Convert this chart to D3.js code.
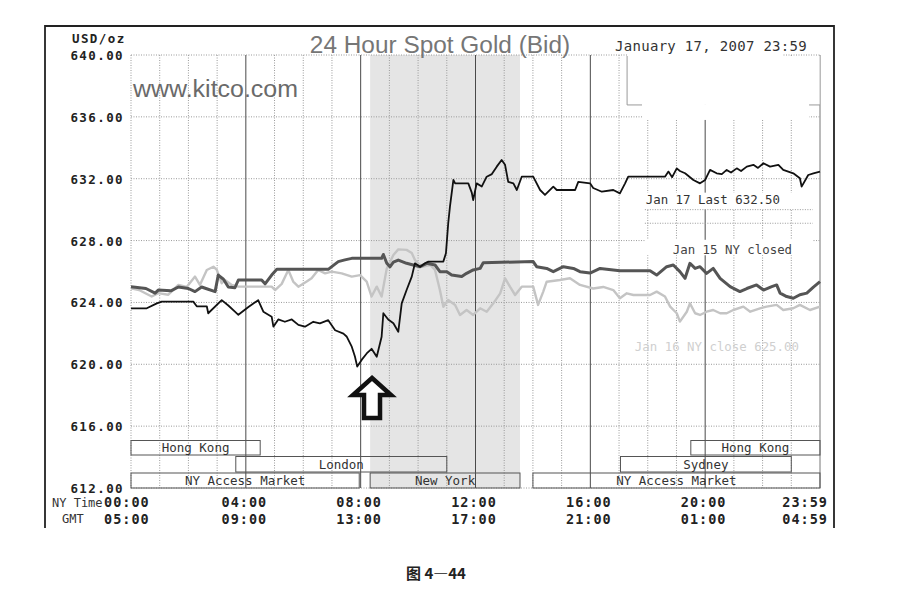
<!DOCTYPE html>
<html lang="zh">
<head>
<meta charset="utf-8">
<script src="https://d3js.org/d3.v7.min.js"></script>
<style>
  body { margin: 0; background: #fff; }
  svg { display: block; }
</style>
</head>
<body>
<div id="chart"></div>
<script>
// ---- data ----
var priceTicks = [640, 636, 632, 628, 624, 620, 616, 612];
var tickHours = [0, 4, 8, 12, 16, 20, 24];
var nyTimeLabels = ["00:00", "04:00", "08:00", "12:00", "16:00", "20:00", "23:59"];
var gmtLabels = ["05:00", "09:00", "13:00", "17:00", "21:00", "01:00", "04:59"];

// [hour NY time, USD/oz]
var jan17 = [
  [0, 623.62], [0.55, 623.62], [0.9, 623.94], [1.07, 624.05], [2.17, 624.05], [2.29, 623.75],
  [2.64, 623.75], [2.69, 623.3], [3.16, 624.15], [3.39, 623.8], [3.62, 623.4], [3.74, 623.2],
  [4.09, 623.7], [4.43, 624.15], [4.61, 623.4], [4.9, 623.08], [4.96, 622.43], [5.13, 622.9],
  [5.36, 622.75], [5.6, 622.9], [5.83, 622.55], [6.06, 622.43], [6.35, 622.75], [6.58, 622.65],
  [6.87, 622.85], [7.11, 622.2], [7.4, 621.98], [7.51, 621.8], [7.69, 621.14], [7.8, 620.5],
  [7.88, 619.85], [8.04, 620.3], [8.21, 620.7], [8.38, 621.0], [8.56, 620.49], [8.73, 621.78],
  [8.79, 623.3], [8.96, 622.9], [9.14, 622.65], [9.31, 622.1], [9.43, 623.94], [9.6, 624.8],
  [9.78, 625.67], [9.89, 626.53], [10.07, 626.3], [10.24, 626.53], [10.36, 626.64], [10.88, 626.64],
  [10.97, 627.18], [11.05, 629.12], [11.11, 630.2], [11.23, 631.92], [11.29, 631.7], [11.75, 631.7],
  [11.87, 631.1], [11.92, 630.62], [12.04, 631.7], [12.22, 631.5], [12.39, 632.13], [12.57, 632.3],
  [12.74, 632.78], [12.91, 633.21], [13.03, 632.9], [13.14, 631.8], [13.32, 631.7], [13.44, 631.27],
  [13.61, 632.13], [14.01, 632.13], [14.25, 631.27], [14.42, 630.95], [14.71, 631.49], [14.83, 631.27],
  [15.47, 631.27], [15.58, 631.8], [15.99, 631.7], [16.1, 631.4], [16.4, 631.16], [16.8, 631.27],
  [17.03, 631.05], [17.21, 631.7], [17.32, 632.13], [18.6, 632.13], [18.72, 632.46], [18.85, 632.1],
  [19.01, 632.67], [19.12, 632.5], [19.3, 632.35], [19.59, 631.92], [19.82, 631.7], [20.0, 631.92],
  [20.17, 632.57], [20.4, 632.35], [20.58, 632.3], [20.75, 632.57], [20.9, 632.4], [21.1, 632.67],
  [21.25, 632.5], [21.45, 632.78], [21.68, 632.9], [21.84, 632.7], [22.03, 633.0], [22.26, 632.78],
  [22.55, 632.9], [22.72, 632.57], [23.07, 632.35], [23.3, 632.03], [23.36, 631.49], [23.59, 632.24],
  [23.77, 632.35], [24, 632.46]
];

var jan15 = [
  [0, 625.02], [0.52, 624.9], [0.84, 624.6], [0.95, 624.8], [1.39, 624.75], [1.65, 625.0],
  [2.0, 624.9], [2.23, 624.7], [2.46, 625.0], [2.61, 624.9], [2.93, 624.7], [3.04, 625.77],
  [3.22, 625.5], [3.39, 625.0], [3.62, 624.95], [3.74, 625.45], [4.55, 625.45], [4.67, 625.2],
  [4.9, 625.77], [5.08, 626.14], [6.87, 626.14], [7.05, 626.4], [7.22, 626.64], [7.45, 626.75],
  [7.69, 626.85], [8.73, 626.85], [8.79, 627.1], [8.91, 626.53], [9.02, 626.3], [9.14, 626.6],
  [9.31, 626.74], [9.6, 626.53], [9.83, 626.42], [10.07, 626.31], [10.3, 626.53], [10.59, 626.42],
  [10.76, 625.99], [11.0, 625.99], [11.17, 625.77], [11.52, 625.67], [11.69, 625.88], [11.92, 626.1],
  [12.16, 626.2], [12.27, 626.57], [14.01, 626.64], [14.13, 626.31], [14.48, 626.2], [14.71, 625.99],
  [15.06, 626.31], [15.41, 626.2], [15.64, 625.99], [15.99, 625.9], [16.34, 626.2], [16.8, 626.1],
  [17.03, 626.05], [18.08, 626.05], [18.31, 625.77], [18.66, 626.31], [18.89, 626.42], [19.12, 625.99],
  [19.3, 625.56], [19.47, 626.53], [19.65, 626.2], [19.82, 626.31], [20.05, 625.88], [20.28, 626.2],
  [20.52, 625.56], [20.87, 625.02], [21.21, 624.7], [21.45, 624.9], [21.79, 625.13], [22.03, 624.8],
  [22.32, 625.02], [22.49, 625.13], [22.61, 624.6], [22.84, 624.38], [23.07, 624.27], [23.3, 624.5],
  [23.54, 624.6], [23.77, 624.99], [24, 625.34]
];

var jan16 = [
  [0, 624.91], [0.28, 624.8], [0.72, 624.38], [0.95, 624.6], [1.3, 624.5], [1.65, 625.13],
  [1.94, 625.0], [2.23, 625.67], [2.4, 625.13], [2.64, 626.1], [2.87, 626.31], [2.99, 626.1],
  [3.16, 625.24], [3.27, 625.45], [3.51, 625.13], [3.74, 625.02], [4.9, 625.02], [5.02, 624.8],
  [5.25, 625.2], [5.48, 626.1], [5.65, 625.35], [5.83, 625.02], [6.12, 625.35], [6.29, 625.56],
  [6.52, 626.1], [6.76, 625.88], [6.99, 625.99], [7.34, 625.88], [7.69, 625.67], [7.98, 625.77],
  [8.21, 625.35], [8.38, 624.38], [8.56, 625.02], [8.73, 624.38], [8.91, 626.2], [9.14, 627.07],
  [9.31, 627.43], [9.6, 627.4], [9.78, 627.2], [9.89, 626.74], [10.13, 626.31], [10.42, 626.42],
  [10.59, 626.1], [10.76, 624.8], [10.88, 623.72], [11.05, 624.16], [11.29, 623.84], [11.46, 623.19],
  [11.69, 623.51], [11.92, 623.19], [12.16, 623.62], [12.39, 623.4], [12.62, 623.94], [12.86, 624.59],
  [13.03, 625.56], [13.2, 625.02], [13.38, 624.48], [13.61, 625.02], [14.01, 625.02], [14.18, 623.84],
  [14.36, 624.7], [14.48, 625.34], [14.94, 625.45], [15.29, 625.56], [15.64, 625.13], [16.1, 624.9],
  [16.45, 625.0], [16.8, 624.8], [17.03, 624.27], [17.27, 624.59], [17.5, 624.48], [18.08, 624.48],
  [18.31, 624.7], [18.6, 624.38], [18.78, 623.73], [19.01, 623.3], [19.12, 622.76], [19.36, 623.4],
  [19.47, 623.94], [19.65, 623.3], [19.82, 623.19], [20.05, 623.4], [20.28, 623.51], [20.52, 623.3],
  [20.75, 623.3], [20.98, 623.51], [21.33, 623.73], [21.57, 623.4], [21.91, 623.62], [22.14, 623.73],
  [22.49, 623.84], [22.72, 623.51], [23.07, 623.62], [23.3, 623.84], [23.65, 623.51], [24, 623.73]
];

// trading sessions (hours NY time), row 0 = top
var sessions = [
  {name: "Hong Kong", start: 0, end: 4.5, row: 0},
  {name: "London", start: 3.65, end: 11, row: 1},
  {name: "NY Access Market", start: 0, end: 7.95, row: 2},
  {name: "New York", start: 8.33, end: 13.55, row: 2},
  {name: "NY Access Market", start: 14, end: 24, row: 2},
  {name: "Sydney", start: 17.05, end: 23, row: 1},
  {name: "Hong Kong", start: 19.5, end: 24, row: 0}
];

var legendLabels = ["Jan 17 Last 632.50", "Jan 15 NY closed", "Jan 16 NY close 625.00"];

// ---- layout ----
var W = 916, H = 606;
var plotLeft = 131, plotRight = 820, plotTop = 55, plotBottom = 488;
var mono = "'DejaVu Sans Mono', monospace";

var svg = d3.select("#chart").append("svg")
  .attr("width", W).attr("height", H)
  .style("background", "#fff");

var x = d3.scaleLinear().domain([0, 24]).range([plotLeft, plotRight]);
var y = d3.scaleLinear().domain([612, 640]).range([plotBottom, plotTop]);

// outer frame (scan edge, bottom cut off)
svg.append("path")
  .attr("d", "M45,528 L45,26 L834,26 L834,528")
  .attr("fill", "none").attr("stroke", "#222").attr("stroke-width", 1.8);

// New York session shading
svg.append("rect")
  .attr("x", x(8.33)).attr("y", plotTop)
  .attr("width", x(13.55) - x(8.33)).attr("height", plotBottom - plotTop)
  .attr("fill", "#e5e5e5");

// grid
var hours = d3.range(0, 25);
svg.append("g").selectAll("line").data(hours).join("line")
  .attr("x1", d => x(d)).attr("x2", d => x(d))
  .attr("y1", plotTop).attr("y2", plotBottom)
  .attr("stroke", d => (d % 4 === 0 && d > 0 && d < 24) ? "#4a4a4a" : (d === 24 ? "#777" : "#9a9a9a"))
  .attr("stroke-width", 1)
  .attr("stroke-dasharray", d => (d % 4 === 0 && d > 0) ? null : "1,1.5");

svg.append("g").selectAll("line").data(priceTicks).join("line")
  .attr("x1", plotLeft).attr("x2", plotRight)
  .attr("y1", d => y(d)).attr("y2", d => y(d))
  .attr("stroke", "#9a9a9a").attr("stroke-width", 1)
  .attr("stroke-dasharray", "1,1.5");

// erased patch top right
svg.append("rect")
  .attr("x", x(17.28)).attr("y", y(640) - 2)
  .attr("width", x(22.7) - x(17.28)).attr("height", 5)
  .attr("fill", "#fff");
svg.append("rect")
  .attr("x", x(17.28)).attr("y", y(640) + 1)
  .attr("width", plotRight - x(17.28) - 0.5).attr("height", y(636.77) - y(640) - 1)
  .attr("fill", "#fff");
svg.append("rect")
  .attr("x", x(17.8)).attr("y", y(636.77))
  .attr("width", x(23.62) - x(17.8)).attr("height", y(635.8) - y(636.77))
  .attr("fill", "#fff");
svg.append("path")
  .attr("d", "M" + x(17.28) + "," + (y(640) + 1) + "V" + y(636.77) + "H" + x(17.8)
    + "M" + x(23.62) + "," + y(636.77) + "H" + plotRight)
  .attr("fill", "none").attr("stroke", "#999").attr("stroke-width", 1);

// legend backgrounds
svg.append("rect")
  .attr("x", x(17.85)).attr("y", y(631.1))
  .attr("width", x(23.8) - x(17.85)).attr("height", y(630.02) - y(631.1))
  .attr("fill", "#fff");
svg.append("g").selectAll("line").data([630.0, 629.12]).join("line")
  .attr("x1", x(17.9)).attr("x2", x(23.75))
  .attr("y1", d => y(d)).attr("y2", d => y(d))
  .attr("stroke", "#999").attr("stroke-dasharray", "1,1.5");
svg.append("rect")
  .attr("x", x(17.9)).attr("y", y(628.05))
  .attr("width", x(23.75) - x(17.9)).attr("height", y(627.05) - y(628.05))
  .attr("fill", "#fff");

// price lines
var line = d3.line().x(d => x(d[0])).y(d => y(d[1]));
svg.append("path").datum(jan16)
  .attr("d", line).attr("fill", "none")
  .attr("stroke", "#c4c4c4").attr("stroke-width", 2.4).attr("stroke-linejoin", "round");
svg.append("path").datum(jan15)
  .attr("d", line).attr("fill", "none")
  .attr("stroke", "#555").attr("stroke-width", 3).attr("stroke-linejoin", "round");
svg.append("path").datum(jan17)
  .attr("d", line).attr("fill", "none")
  .attr("stroke", "#111").attr("stroke-width", 1.8).attr("stroke-linejoin", "round");

// legend texts
var legendPos = [[17.93, 630.37], [18.87, 627.13], [17.55, 620.86]];
var legendColor = ["#333", "#444", "#cfcfcf"];
svg.append("g").selectAll("text").data(legendLabels).join("text")
  .attr("x", (d, i) => x(legendPos[i][0]))
  .attr("y", (d, i) => y(legendPos[i][1]))
  .attr("font-family", mono).attr("font-size", 12.4)
  .attr("fill", (d, i) => legendColor[i])
  .text(d => d);

// arrow at the low
var ax = x(8.395), ay = y(619.11);
svg.append("path")
  .attr("transform", "translate(" + ax + "," + ay + ")")
  .attr("d", "M0,0 L19,17 L8,17 L8,40 L-8,40 L-8,17 L-19,17 Z")
  .attr("fill", "#fff").attr("stroke", "#111")
  .attr("stroke-width", 4.5).attr("stroke-linejoin", "miter");

// session boxes
var rowTop = [plotBottom - 47.5, plotBottom - 31.5, plotBottom - 15];
var rowH = [14.5, 15.5, 15];
var sg = svg.append("g").selectAll("g").data(sessions).join("g");
sg.append("rect")
  .attr("x", d => x(d.start)).attr("y", d => rowTop[d.row])
  .attr("width", d => x(d.end) - x(d.start)).attr("height", d => rowH[d.row])
  .attr("fill", "none").attr("stroke", "#555").attr("stroke-width", 1);
sg.append("text")
  .attr("x", d => (x(d.start) + x(d.end)) / 2)
  .attr("y", d => rowTop[d.row] + rowH[d.row] - 2.8)
  .attr("text-anchor", "middle")
  .attr("font-family", mono).attr("font-size", 12.5).attr("fill", "#333")
  .text(d => d.name);

// y axis labels
svg.append("g").selectAll("text").data(priceTicks).join("text")
  .attr("x", 124).attr("y", d => y(d) + 5)
  .attr("text-anchor", "end")
  .attr("font-family", mono).attr("font-size", 12.5).attr("font-weight", "bold")
  .attr("letter-spacing", 1.4).attr("fill", "#222")
  .text(d => d.toFixed(2));
svg.append("text")
  .attr("x", 72).attr("y", 43)
  .attr("font-family", mono).attr("font-size", 12.5).attr("font-weight", "bold")
  .attr("letter-spacing", 1.4).attr("fill", "#222")
  .text("USD/oz");

// time axis labels
function anchorFor(i) { return i === 0 ? "start" : (i === tickHours.length - 1 ? "end" : "middle"); }
function xFor(i) { return i === 0 ? 104 : (i === tickHours.length - 1 ? 828 : x(tickHours[i]) - 1.5); }
[nyTimeLabels, gmtLabels].forEach(function(labels, r) {
  svg.append("g").selectAll("text").data(labels).join("text")
    .attr("x", (d, i) => xFor(i))
    .attr("y", r === 0 ? 507 : 524)
    .attr("text-anchor", (d, i) => anchorFor(i))
    .attr("font-family", mono).attr("font-size", 13.5).attr("font-weight", "bold")
    .attr("letter-spacing", 1).attr("fill", "#222")
    .text(d => d);
});
svg.append("text")
  .attr("x", 52).attr("y", 507)
  .attr("font-family", mono).attr("font-size", 12).attr("fill", "#333")
  .text("NY Time");
svg.append("text")
  .attr("x", 62).attr("y", 523)
  .attr("font-family", mono).attr("font-size", 12).attr("fill", "#333")
  .text("GMT");

// titles
svg.append("text")
  .attr("x", 440).attr("y", 52.5)
  .attr("text-anchor", "middle")
  .attr("font-family", "'Liberation Sans', Arial, sans-serif").attr("font-size", 24.4)
  .attr("fill", "#767676")
  .text("24 Hour Spot Gold (Bid)");
svg.append("text")
  .attr("x", 615).attr("y", 51)
  .attr("font-family", mono).attr("font-size", 14)
  .attr("letter-spacing", 0.3).attr("fill", "#333")
  .text("January 17, 2007 23:59");
svg.append("text")
  .attr("x", 133).attr("y", 97)
  .attr("font-family", "'Liberation Sans', Arial, sans-serif").attr("font-size", 23)
  .attr("textLength", 165).attr("lengthAdjust", "spacingAndGlyphs")
  .attr("fill", "#6a6a6a")
  .text("www.kitco.com");

// figure caption
svg.append("text")
  .attr("x", 436).attr("y", 579)
  .attr("text-anchor", "middle")
  .attr("font-family", "'Noto Sans CJK SC', sans-serif").attr("font-size", 15)
  .attr("font-weight", "bold").attr("fill", "#222")
  .text("图 4—44");
</script>
</body>
</html>
